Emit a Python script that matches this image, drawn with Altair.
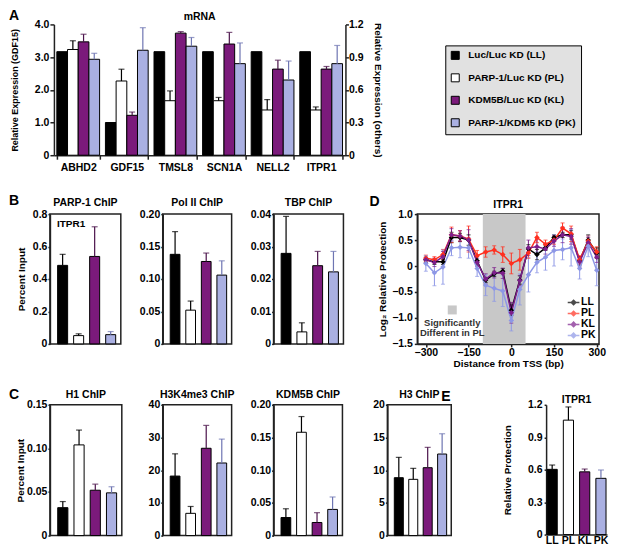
import altair as alt
import pandas as pd

FONT = "Liberation Sans"

# ---------------- shared categories / styles ----------------
conds = ["LL", "PL", "KL", "PK"]
cond_names = ["Luc/Luc KD (LL)", "PARP-1/Luc KD (PL)", "KDM5B/Luc KD (KL)", "PARP-1/KDM5 KD (PK)"]
bar_fill = ["#000000", "#ffffff", "#7b1a7b", "#aab0e2"]
err_col = ["#000000", "#000000", "#4a124a", "#6e75b2"]
line_col = ["#000000", "#ff2f1f", "#7d1f8c", "#8d97e6"]

# ---------------- panel A : mRNA ----------------
genes = ["ABHD2", "GDF15", "TMSL8", "SCN1A", "NELL2", "ITPR1"]
# GDF15 is read on the left axis, all other genes on the right axis
mrna_LL = [0.95, 1.00, 0.95, 0.95, 0.95, 0.95]
mrna_PL = [0.97, 2.27, 0.50, 0.50, 0.415, 0.415]
mrna_KL = [1.04, 1.22, 1.12, 1.02, 0.79, 0.79]
mrna_PK = [0.88, 3.21, 1.00, 0.84, 0.69, 0.84]
mrna_PL_err = [0.08, 0.36, 0.09, 0.03, 0.095, 0.028]
mrna_KL_err = [0.07, 0.10, 0.013, 0.107, 0.082, 0.024]
mrna_PK_err = [0.055, 0.69, 0.08, 0.19, 0.174, 0.167]

# ---------------- panel B : ChIP at ITPR1 ----------------
parp1_chip = [0.484, 0.051, 0.539, 0.057]
parp1_err = [0.068, 0.011, 0.183, 0.019]
pol2_chip = [0.138, 0.052, 0.127, 0.106]
pol2_err = [0.035, 0.014, 0.013, 0.022]
tbp_chip = [0.0279, 0.0037, 0.0241, 0.0222]
tbp_err = [0.0114, 0.0028, 0.0044, 0.0063]

# ---------------- panel C ----------------
h1_chip = [0.032, 0.104, 0.052, 0.049]
h1_err = [0.007, 0.017, 0.007, 0.007]
k4_chip = [18.2, 6.8, 26.7, 22.2]
k4_err = [6.8, 2.1, 7.0, 7.3]
kdm_chip = [0.0276, 0.158, 0.020, 0.040]
kdm_err = [0.0134, 0.024, 0.015, 0.019]
h3_chip = [8.85, 8.6, 10.38, 12.47]
h3_err = [3.11, 1.68, 3.11, 3.10]

# ---------------- panel D : MNase protection ----------------
tss = [-300, -270, -240, -210, -180, -150, -120, -90, -60, -30, 0,
       30, 60, 90, 120, 150, 180, 210, 240, 270, 300]
prot_LL = [0.12, 0.08, 0.08, 0.55, 0.55, 0.50, 0.10, -0.27, -0.15, -0.10, -0.85,
           -0.27, 0.33, 0.22, 0.35, 0.55, 0.60, 0.60, 0.10, 0.50, 0.25]
prot_PL = [0.15, 0.12, 0.22, 0.60, 0.58, 0.52, 0.20, 0.27, 0.31, 0.22, 0.05,
           0.12, 0.25, 0.55, 0.42, 0.50, 0.73, 0.62, 0.12, 0.48, 0.27]
prot_KL = [0.12, 0.07, 0.18, 0.60, 0.58, 0.50, 0.07, -0.25, -0.13, -0.14, -0.90,
           -0.28, 0.35, 0.37, 0.33, 0.48, 0.60, 0.57, 0.08, 0.45, 0.17]
prot_PK = [0.05, -0.13, -0.02, 0.35, 0.36, 0.35, -0.05, -0.37, -0.43, -0.48, -1.05,
           -0.45, -0.17, 0.07, 0.17, 0.30, 0.32, 0.35, -0.05, 0.38, -0.08]
prot_LL_err = [0.05, 0.05, 0.05, 0.10, 0.08, 0.10, 0.08, 0.05, 0.05, 0.05, 0.10,
               0.08, 0.08, 0.10, 0.05, 0.05, 0.05, 0.08, 0.08, 0.10, 0.10]
prot_PL_err = [0.06, 0.06, 0.10, 0.15, 0.10, 0.25, 0.10, 0.10, 0.08, 0.15, 0.20,
               0.20, 0.10, 0.10, 0.08, 0.08, 0.10, 0.15, 0.08, 0.10, 0.10]
prot_KL_err = [0.05, 0.08, 0.10, 0.12, 0.10, 0.20, 0.08, 0.10, 0.10, 0.10, 0.20,
               0.10, 0.15, 0.15, 0.10, 0.10, 0.15, 0.15, 0.10, 0.10, 0.10]
prot_PK_err = [0.15, 0.25, 0.33, 0.15, 0.20, 0.20, 0.15, 0.20, 0.25, 0.30, 0.20,
               0.30, 0.33, 0.20, 0.25, 0.30, 0.20, 0.35, 0.20, 0.20, 0.30]
shade_start = [-100]
shade_end = [50]
annotation_text = "Significantly\nDifferent in PL"

# ---------------- panel E ----------------
e_prot = [0.603, 1.058, 0.58, 0.52]
e_err = [0.04, 0.122, 0.026, 0.077]

panel_letters = ["A", "B", "C", "D", "E"]


def y_label_expr(fmt):
    return f"datum.value == 0 ? '0' : format(datum.value, '{fmt}')"


def text_layer(text, x, y, size=14, align="left", color="black", **kw):
    return (alt.Chart(pd.DataFrame({"t": [text]}))
            .mark_text(align=align, baseline="alphabetic", fontSize=size,
                       fontWeight="bold", font=FONT, color=color, **kw)
            .encode(text="t:N", x=alt.value(x), y=alt.value(y)))


def title_layer(text, width, y):
    return text_layer(text, width / 2, y, size=10.5, align="center")


def spacer(w):
    return (alt.Chart(pd.DataFrame({"s": [0]}))
            .mark_point(opacity=0, size=1)
            .encode(x=alt.value(0), y=alt.value(0))
            .properties(width=w, height=1))


FRAME = alt.ViewBackground(stroke="#222222", strokeWidth=1.5)


def bar_panel(title, means, errs, ymax, ticks, fmt, width, height=130, ytitle=None,
              title_pad=8, letter=None, lx=-41, ly=-9, note=None, xlabels=False,
              framed=True, title_y=-7, pad_outer=0.4, align=0.6, label_pad=1):
    df = pd.DataFrame({"cond": conds, "value": means,
                       "hi": [m + e for m, e in zip(means, errs)]})
    xs = alt.Scale(domain=conds, paddingInner=0.375, paddingOuter=pad_outer, align=align)
    ys = alt.Scale(domain=[0, ymax], nice=False, zero=True)
    if xlabels:
        xaxis = alt.Axis(title=None, labelAngle=0, ticks=False, tickSize=0, labelPadding=1)
    else:
        xaxis = None
    yaxis = alt.Axis(values=ticks, labelExpr=y_label_expr(fmt), title=ytitle,
                     titlePadding=title_pad, titleFontSize=10, tickSize=2,
                     labelPadding=label_pad)
    x = alt.X("cond:N", scale=xs, axis=xaxis)
    base = alt.Chart(df)
    bars = base.mark_bar(stroke="black", strokeWidth=1).encode(
        x=x, y=alt.Y("value:Q", scale=ys, axis=yaxis),
        fill=alt.Fill("cond:N", scale=alt.Scale(domain=conds, range=bar_fill), legend=None))
    rules = base.mark_rule(strokeWidth=1.2).encode(
        x=x, y=alt.Y("value:Q", scale=ys, axis=yaxis), y2="hi:Q",
        stroke=alt.Stroke("cond:N", scale=alt.Scale(domain=conds, range=err_col), legend=None))
    caps = base.mark_tick(orient="horizontal", size=6, thickness=1.2).encode(
        x=x, y=alt.Y("hi:Q", scale=ys, axis=yaxis),
        color=alt.Color("cond:N", scale=alt.Scale(domain=conds, range=err_col), legend=None))
    layers = [bars, rules, caps, title_layer(title, width, title_y)]
    if letter:
        layers.append(text_layer(letter, lx, ly))
    if note:
        layers.append(text_layer(note, 7, 13, size=10))
    props = dict(width=width, height=height)
    if framed:
        props["view"] = FRAME
    return alt.layer(*layers).properties(**props)


# ---------------- build panel A ----------------
rows = []
for cond, name, vals, errs in zip(conds, cond_names,
                                  [mrna_LL, mrna_PL, mrna_KL, mrna_PK],
                                  [None, mrna_PL_err, mrna_KL_err, mrna_PK_err]):
    for i, g in enumerate(genes):
        e = errs[i] if errs else 0.0
        rows.append({"gene": g, "cond": cond, "name": name, "value": vals[i],
                     "hi": vals[i] + e, "err": e})
mrna = pd.DataFrame(rows)

legend_A = alt.Legend(title=None, orient="none", legendX=392, legendY=21,
                      direction="vertical", fillColor="#e1e1e1", strokeColor="black",
                      padding=5, rowPadding=10.5, symbolType="square", symbolSize=64,
                      symbolStrokeColor="black", symbolStrokeWidth=1,
                      labelFontSize=10, labelFontWeight="bold", labelOffset=8,
                      labelLimit=300, labelFont=FONT)
fill_A = alt.Fill("name:N", scale=alt.Scale(domain=cond_names, range=bar_fill), legend=legend_A)
xA = alt.X("gene:N", scale=alt.Scale(domain=genes, paddingInner=0.12, paddingOuter=0.06),
           axis=alt.Axis(title=None, labelAngle=0, tickBand="extent", tickSize=4, labelPadding=3))
xoA = alt.XOffset("cond:N", scale=alt.Scale(domain=conds, paddingInner=0, paddingOuter=0))


def mrna_layer(df, dom, axis):
    ys = alt.Scale(domain=dom, nice=False, zero=True)
    bars = alt.Chart(df).mark_bar(stroke="black", strokeWidth=1).encode(
        x=xA, xOffset=xoA, y=alt.Y("value:Q", scale=ys, axis=axis), fill=fill_A)
    edf = df[df["err"] > 0]
    rules = alt.Chart(edf).mark_rule(strokeWidth=1.2).encode(
        x=xA, xOffset=xoA, y=alt.Y("value:Q", scale=ys, axis=axis), y2="hi:Q",
        stroke=alt.Stroke("cond:N", scale=alt.Scale(domain=conds, range=err_col), legend=None))
    caps = alt.Chart(edf).mark_tick(orient="horizontal", size=6, thickness=1.2).encode(
        x=xA, xOffset=xoA, y=alt.Y("hi:Q", scale=ys, axis=axis),
        color=alt.Color("cond:N", scale=alt.Scale(domain=conds, range=err_col), legend=None))
    return alt.layer(bars, rules, caps)


left_axis = alt.Axis(orient="left", values=[0, 1, 2, 3, 4], labelExpr=y_label_expr(".1f"),
                     title="Relative Expression (GDF15)", titlePadding=15, titleFontSize=9,
                     tickSize=4, labelPadding=1)
right_axis = alt.Axis(orient="right", values=[0, 0.3, 0.6, 0.9, 1.2], labelExpr=y_label_expr(".1f"),
                      title="Relative Expression (others)", titlePadding=10, titleFontSize=10,
                      tickSize=3, labelPadding=0)
A_left = mrna_layer(mrna[mrna["gene"] == "GDF15"], [0, 4], left_axis)
A_right = mrna_layer(mrna[mrna["gene"] != "GDF15"], [0, 1.2], right_axis)
panel_A = (alt.layer(A_left, A_right,
                     text_layer(panel_letters[0], -45, -4),
                     title_layer("mRNA", 292, -4))
           .resolve_scale(y="independent")
           .properties(width=292, height=131))

# ---------------- panel B ----------------
B1 = bar_panel("PARP-1 ChIP", parp1_chip, parp1_err, 0.8, [0, 0.2, 0.4, 0.6, 0.8], ".1f", 71,
               ytitle="Percent Input", title_pad=6, letter=panel_letters[1], ly=-9,
               note="ITPR1", title_y=-8)
B2 = bar_panel("Pol II ChIP", pol2_chip, pol2_err, 0.2, [0, 0.05, 0.1, 0.15, 0.2], ".2f", 69, title_y=-8)
B3 = bar_panel("TBP ChIP", tbp_chip, tbp_err, 0.04, [0, 0.01, 0.02, 0.03, 0.04], ".2f", 70, title_y=-8)

# ---------------- panel C ----------------
C1 = bar_panel("H1 ChIP", h1_chip, h1_err, 0.15, [0, 0.05, 0.1, 0.15], ".2f", 72, height=131,
               ytitle="Percent Input", title_pad=1, letter=panel_letters[2], ly=-6)
C2 = bar_panel("H3K4me3 ChIP", k4_chip, k4_err, 40, [0, 10, 20, 30, 40], "d", 69, height=131)
C3 = bar_panel("KDM5B ChIP", kdm_chip, kdm_err, 0.2, [0, 0.05, 0.1, 0.15, 0.2], ".2f", 69, height=131)
C4 = bar_panel("H3 ChIP", h3_chip, h3_err, 20, [0, 5, 10, 15, 20], "d", 64, height=131)

# ---------------- panel E ----------------
E = bar_panel("ITPR1", e_prot, e_err, 1.2, [0, 0.3, 0.6, 0.9, 1.2], ".1f", 61,
              ytitle="Relative Protection", title_pad=15, letter=panel_letters[4], lx=-105, ly=-4,
              xlabels=True, framed=False, title_y=-2, pad_outer=0.06, align=0.5, label_pad=2)

# ---------------- panel D ----------------
rows = []
for s, vals, errs in zip(conds, [prot_LL, prot_PL, prot_KL, prot_PK],
                         [prot_LL_err, prot_PL_err, prot_KL_err, prot_PK_err]):
    for xv, v, e in zip(tss, vals, errs):
        rows.append({"x": xv, "series": s, "value": v, "lo": v - e, "hi": v + e})
prot = pd.DataFrame(rows)

xsD = alt.Scale(domain=[-330, 308], nice=False, zero=False)
ysD = alt.Scale(domain=[-1.5, 1.0], nice=False, zero=False)
xD_axis = alt.Axis(values=[-300, -150, 0, 150, 300], title="Distance from TSS (bp)",
                   titlePadding=0, labelPadding=1, tickSize=3)
yD_axis = alt.Axis(values=[-1.5, -1, -0.5, 0, 0.5, 1], labelExpr=y_label_expr(".1f"),
                   title="Log\u2082 Relative Protection", titlePadding=4, tickSize=3)
legend_D = alt.Legend(title=None, orient="bottom-right", offset=3, padding=0, rowPadding=0,
                      symbolType="M-1.3,0H1.3M-0.5,0L0,-0.5L0.5,0L0,0.5Z", symbolSize=81,
                      symbolStrokeWidth=1.5, labelFontSize=10.5, labelFontWeight="bold",
                      labelOffset=2, labelFont=FONT)
colD = alt.Color("series:N", scale=alt.Scale(domain=conds, range=line_col), legend=legend_D)
xD = alt.X("x:Q", scale=xsD, axis=xD_axis)

shade = (alt.Chart(pd.DataFrame({"start": shade_start, "end": shade_end}))
         .mark_rect(color="#c8c8c8")
         .encode(x=alt.X("start:Q", scale=xsD, axis=xD_axis), x2="end:Q",
                 y=alt.value(0), y2=alt.value(130)))
baseD = alt.Chart(prot)
linesD = baseD.mark_line(strokeWidth=1.5).encode(
    x=xD, y=alt.Y("value:Q", scale=ysD, axis=yD_axis), color=colD, order="x:Q")
errD = baseD.mark_rule(strokeWidth=1).encode(
    x=xD, y=alt.Y("lo:Q", scale=ysD, axis=yD_axis), y2="hi:Q", color=colD)
capHi = baseD.mark_tick(orient="horizontal", size=4, thickness=1).encode(
    x=xD, y=alt.Y("hi:Q", scale=ysD, axis=yD_axis), color=colD)
capLo = baseD.mark_tick(orient="horizontal", size=4, thickness=1).encode(
    x=xD, y=alt.Y("lo:Q", scale=ysD, axis=yD_axis), color=colD)
ptsD = baseD.mark_point(shape="diamond", filled=True, size=30, opacity=1).encode(
    x=xD, y=alt.Y("value:Q", scale=ysD, axis=yD_axis), color=colD)
annot_sq = (alt.Chart(pd.DataFrame({"s": [0]}))
            .mark_square(size=81, color="#c8c8c8", opacity=1)
            .encode(x=alt.value(35), y=alt.value(96)))
annot_tx = text_layer(annotation_text, 35, 112, size=9.5, align="center", color="#333333",
                      lineBreak="\n", lineHeight=10)
D = (alt.layer(shade, errD, capHi, capLo, linesD, ptsD, annot_sq, annot_tx,
               text_layer(panel_letters[3], -48, -8), title_layer("ITPR1", 182, -6))
     .properties(width=182, height=130, view=FRAME))

# ---------------- layout ----------------
IND = dict(fill="independent", color="independent", stroke="independent")
row1 = alt.hconcat(spacer(4), panel_A, spacing=0, bounds="flush").resolve_scale(**IND)
row2 = alt.hconcat(B1, spacer(42), B2, spacer(42), B3, spacer(74), D,
                   spacing=0, bounds="flush").resolve_scale(**IND)
row3 = alt.hconcat(C1, spacer(41), C2, spacer(42), C3, spacer(45), C4, spacer(95), E,
                   spacing=0, bounds="flush").resolve_scale(**IND)

top = alt.vconcat(row1, row2, spacing=20).resolve_scale(**IND)
chart = (alt.vconcat(top, row3, spacing=17)
         .resolve_scale(**IND)
         .properties(padding=0)
         .configure(font=FONT)
         .configure_view(stroke="transparent")
         .configure_axis(labelFont=FONT, titleFont=FONT, labelFontSize=10.5, titleFontSize=10,
                         labelFontWeight="bold", titleFontWeight="bold", labelColor="black",
                         titleColor="black", domainColor="#222222", tickColor="#222222",
                         domainWidth=1.5, tickWidth=1.5, tickSize=3, grid=False, labelPadding=2)
         .configure_legend(labelFont=FONT))

chart.save("out.html", embed_options={"renderer": "svg", "actions": False})
